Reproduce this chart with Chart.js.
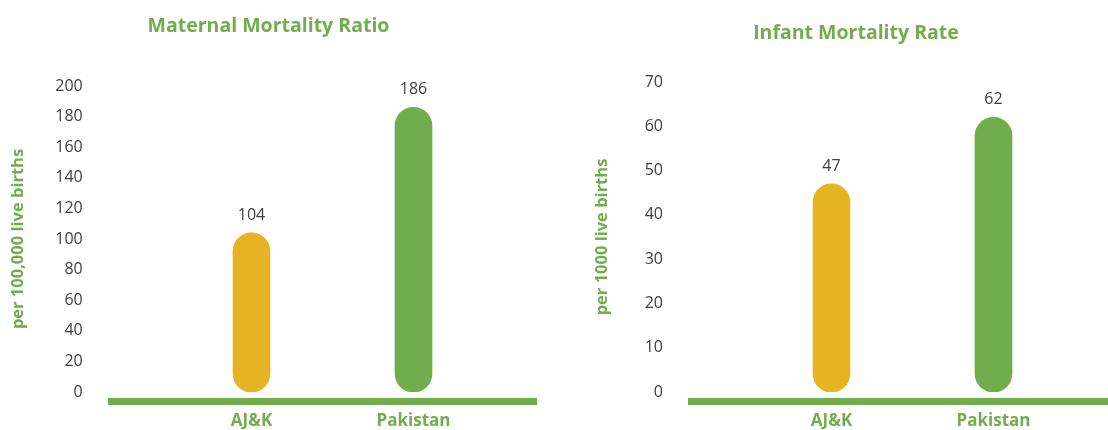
<!DOCTYPE html>
<html>
<head>
<meta charset="utf-8">
<script src="https://cdn.jsdelivr.net/npm/chart.js@4"></script>
<style>
html,body{margin:0;padding:0;background:#fff;overflow:hidden;width:1108px;height:430px}
canvas{position:absolute;top:0}
</style>
</head>
<body>
<canvas id="c1" width="554" height="430" style="left:0;width:554px;height:430px"></canvas>
<canvas id="c2" width="554" height="430" style="left:554px;width:554px;height:430px"></canvas>
<script>
// ---- data ----
const categories = ['AJ&K', 'Pakistan'];
const maternalValues = [104, 186];
const infantValues = [47, 62];
const maternalTicks = [0, 20, 40, 60, 80, 100, 120, 140, 160, 180, 200];
const infantTicks = [0, 10, 20, 30, 40, 50, 60, 70];
const maternalTitle = 'Maternal Mortality Ratio';
const infantTitle = 'Infant Mortality Rate';
const maternalUnit = 'per 100,000 live births';
const infantUnit = 'per 1000 live births';

// ---- style ----
const GREEN = '#72AD4D';
const YELLOW = '#E5B323';
const TEXT = '#404040';
const FONT = '"Open Sans", Lato, sans-serif';

const valueLabels = {
  id: 'valueLabels',
  afterDatasetsDraw(chart) {
    const ctx = chart.ctx;
    const meta = chart.getDatasetMeta(0);
    const data = chart.data.datasets[0].data;
    ctx.save();
    ctx.font = '16px ' + FONT;
    ctx.fillStyle = TEXT;
    ctx.textAlign = 'center';
    ctx.textBaseline = 'middle';
    meta.data.forEach((el, i) => {
      ctx.fillText(String(data[i]), el.x, el.y - 17.5);
    });
    ctx.restore();
  }
};

const chartTitle = {
  id: 'chartTitle',
  afterDraw(chart, args, opts) {
    const ctx = chart.ctx;
    ctx.save();
    ctx.font = 'bold 19.5px ' + FONT;
    ctx.fillStyle = GREEN;
    ctx.textAlign = 'center';
    ctx.textBaseline = 'middle';
    ctx.fillText(opts.text, opts.x, opts.y);
    ctx.restore();
  }
};

const baseline = {
  id: 'baseline',
  beforeDatasetsDraw(chart, args, opts) {
    const ctx = chart.ctx;
    const y = chart.scales.y.getPixelForValue(0) + opts.gap;
    ctx.save();
    ctx.strokeStyle = GREEN;
    ctx.lineWidth = opts.width;
    ctx.beginPath();
    ctx.moveTo(opts.from, y);
    ctx.lineTo(opts.to, y);
    ctx.stroke();
    ctx.restore();
  }
};

function makeChart(id, values, ticks, title, unit, cfg) {
  return new Chart(document.getElementById(id), {
    type: 'bar',
    data: {
      labels: categories,
      datasets: [{
        data: values,
        backgroundColor: [YELLOW, GREEN],
        barThickness: 37,
        borderRadius: 18.5,
        borderSkipped: false
      }]
    },
    options: {
      responsive: false,
      animation: false,
      devicePixelRatio: 1,
      layout: { padding: { top: cfg.top, right: cfg.right, bottom: 0, left: 0 } },
      plugins: {
        legend: { display: false },
        tooltip: { enabled: false },
        chartTitle: { text: title, x: cfg.titleX, y: cfg.titleY },
        baseline: { from: cfg.lineFrom, to: cfg.lineTo, gap: 9.5, width: 7 }
      },
      scales: {
        x: {
          afterFit: (s) => { s.height = 38; },
          grid: { display: false, drawTicks: false },
          border: { display: false },
          ticks: { color: GREEN, font: { family: FONT, size: 17, weight: 'bold' }, padding: 19 }
        },
        y: {
          min: 0,
          max: ticks[ticks.length - 1],
          afterBuildTicks: (s) => { s.ticks = ticks.map(v => ({ value: v })); },
          afterFit: (s) => { s.width = cfg.axisWidth; s.paddingTop = 0; s.paddingBottom = 0; },
          grid: { display: false, drawTicks: false },
          border: { display: false },
          ticks: { color: TEXT, font: { family: FONT, size: 16 }, padding: cfg.tickPad },
          title: {
            display: true,
            text: unit,
            color: GREEN,
            font: { family: FONT, size: 16.5, weight: 'bold' },
            padding: { top: cfg.unitPad, bottom: 0 }
          }
        }
      }
    },
    plugins: [baseline, valueLabels, chartTitle]
  });
}

makeChart('c1', maternalValues, maternalTicks, maternalTitle, maternalUnit, {
  top: 86, right: 59.5, axisWidth: 170.5, tickPad: 87.8, unitPad: 8.6,
  titleX: 268.5, titleY: 26, lineFrom: 108, lineTo: 537
});
makeChart('c2', infantValues, infantTicks, infantTitle, infantUnit, {
  top: 82, right: 33.5, axisWidth: 196.5, tickPad: 87.5, unitPad: 38.1,
  titleX: 302, titleY: 33, lineFrom: 134, lineTo: 560
});
</script>
</body>
</html>
